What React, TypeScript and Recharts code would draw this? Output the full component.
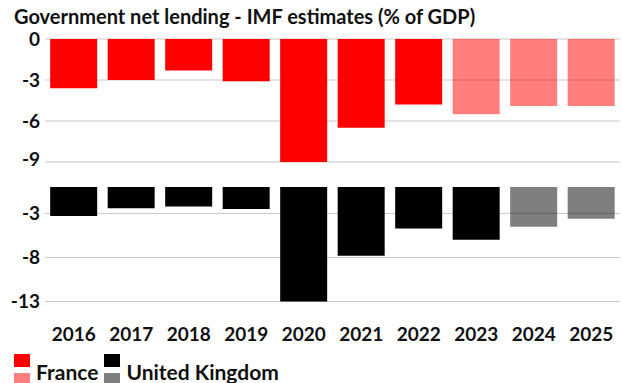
import { Bar, BarChart, CartesianGrid, Cell, XAxis, YAxis } from "recharts";

const years = ["2016", "2017", "2018", "2019", "2020", "2021", "2022", "2023", "2024", "2025"];
const france = [-3.6, -3.0, -2.3, -3.1, -9.0, -6.5, -4.8, -5.5, -4.9, -4.9];
const uk = [-3.3, -2.4, -2.2, -2.5, -13.0, -7.8, -4.7, -6.0, -4.5, -3.6];
// first year drawn as an estimate (lighter bar)
const franceEstimateFrom = "2023";
const ukEstimateFrom = "2024";
const franceTicks = [0, -3, -6, -9];
const ukTicks = [-3, -8, -13];

const FONT = "Lato, 'Noto Sans', sans-serif";
const tickStyle = { fill: "#111", fontSize: 19, fontWeight: 700, fontFamily: FONT };

const rows = years.map((y, i) => ({ year: y, france: france[i], uk: uk[i] }));

function LegendItem({ color, label }: { color: string; label: string }) {
  return (
    <div style={{ display: "flex", alignItems: "flex-start", marginRight: 6 }}>
      <div style={{ width: 16, marginRight: 6 }}>
        <div style={{ width: 16, height: 13, background: color, marginTop: 2 }} />
        <div style={{ width: 16, height: 12, background: color, opacity: 0.5, marginTop: 6 }} />
      </div>
      <span style={{ fontSize: 21, lineHeight: "21px", fontWeight: 700, color: "#111", marginTop: 9 }}>
        {label}
      </span>
    </div>
  );
}

export default function App() {
  return (
    <div
      style={{
        position: "absolute",
        left: 0,
        top: 0,
        width: 622,
        height: 383,
        overflow: "hidden",
        background: "#fff",
        fontFamily: FONT,
      }}
    >
      <div
        style={{
          position: "absolute",
          left: 14,
          top: 4,
          fontSize: 20,
          lineHeight: "24px",
          fontWeight: 700,
          color: "#111",
          whiteSpace: "nowrap",
        }}
      >
        Government net lending - IMF estimates (% of GDP)
      </div>

      <div style={{ position: "absolute", left: 0, top: 0 }}>
        <BarChart
          width={622}
          height={170}
          data={rows}
          margin={{ top: 39, right: 2, bottom: 8, left: 0 }}
          barCategoryGap="9%"
        >
          <CartesianGrid vertical={false} stroke="#c8c8c8" />
          <XAxis dataKey="year" hide />
          <YAxis
            domain={[-9, 0]}
            ticks={franceTicks}
            width={45}
            axisLine={false}
            tickLine={false}
            tickSize={0}
            tickMargin={5}
            tick={tickStyle}
          />
          <Bar dataKey="france" fill="#ff0000" isAnimationActive={false}>
            {rows.map((r) => (
              <Cell key={r.year} fillOpacity={r.year >= franceEstimateFrom ? 0.5 : 1} />
            ))}
          </Bar>
        </BarChart>
      </div>

      <div style={{ position: "absolute", left: 0, top: 170 }}>
        <BarChart
          width={622}
          height={180}
          data={rows}
          margin={{ top: 17, right: 2, bottom: 0, left: 0 }}
          barCategoryGap="9%"
        >
          <CartesianGrid vertical={false} stroke="#c8c8c8" horizontalValues={ukTicks} />
          <XAxis
            dataKey="year"
            height={48.5}
            axisLine={false}
            tickLine={false}
            tickSize={0}
            tickMargin={26}
            tick={tickStyle}
            interval={0}
          />
          <YAxis
            domain={[-13, 0]}
            ticks={ukTicks}
            width={45}
            axisLine={false}
            tickLine={false}
            tickSize={0}
            tickMargin={5}
            tick={tickStyle}
          />
          <Bar dataKey="uk" fill="#000000" isAnimationActive={false}>
            {rows.map((r) => (
              <Cell key={r.year} fillOpacity={r.year >= ukEstimateFrom ? 0.5 : 1} />
            ))}
          </Bar>
        </BarChart>
      </div>

      <div style={{ position: "absolute", left: 14, top: 352, display: "flex" }}>
        <LegendItem color="#ff0000" label="France" />
        <LegendItem color="#000000" label="United Kingdom" />
      </div>
    </div>
  );
}
